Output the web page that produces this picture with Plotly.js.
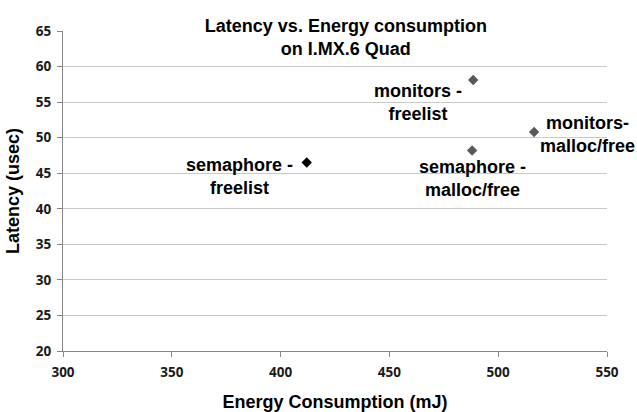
<!DOCTYPE html>
<html>
<head>
<meta charset="utf-8">
<script src="https://cdn.plot.ly/plotly-3.0.1.min.js"></script>
<style>html,body{margin:0;padding:0;background:#fff;}#chart{width:637px;height:412px;}</style>
</head>
<body>
<div id="chart"></div>
<script>
// Data
const names = ["semaphore -<br>freelist", "monitors -<br>freelist", "monitors-<br>malloc/free", "semaphore -<br>malloc/free"];
const energy = [412, 488.5, 516.5, 488];        // mJ
const latency = [46.5, 58.1, 50.8, 48.2];       // usec
const markerColors = ["#000000", "#595959", "#595959", "#595959"];
const xTicks = [300, 350, 400, 450, 500, 550];
const yTicks = [20, 25, 30, 35, 40, 45, 50, 55, 60, 65];

// label offsets (pixels) relative to each point
const labelShiftX = [-67, -55, 53, 0];
const labelShiftY = [-14, -22, -3, -28];

const labelFont = {family: "Liberation Sans, Arial, sans-serif", size: 18, color: "#000", weight: "bold"};
const tickFont = {family: "Open Sans, Lato, sans-serif", size: 13.5, color: "#1a1a1a", weight: 700};

const trace = {
  type: "scatter",
  mode: "markers",
  x: energy,
  y: latency,
  text: names,
  hoverinfo: "text+x+y",
  marker: {symbol: "diamond", size: 8, color: markerColors, line: {width: 0}}
};

const annotations = names.map((n, i) => ({
  x: energy[i], y: latency[i], xref: "x", yref: "y",
  text: n, showarrow: false, align: "center",
  xanchor: "center", yanchor: "middle",
  xshift: labelShiftX[i], yshift: labelShiftY[i],
  font: labelFont
}));

const layout = {
  width: 637, height: 412,
  margin: {l: 63, r: 30, t: 31, b: 61, pad: 0},
  paper_bgcolor: "#ffffff", plot_bgcolor: "#ffffff",
  showlegend: false,
  title: {
    text: "Latency vs. Energy consumption<br>on I.MX.6 Quad",
    x: 0.52, xanchor: "center", xref: "paper",
    y: 1 - 32/412, yanchor: "middle", yref: "container",
    font: {family: "Liberation Sans, Arial, sans-serif", size: 18, color: "#000", weight: "bold"}
  },
  xaxis: {
    range: [300, 550], tickvals: xTicks, ticktext: xTicks.map(String),
    showgrid: false, zeroline: false,
    showline: true, linecolor: "#868686", linewidth: 1,
    ticks: "outside", ticklen: 5, tickcolor: "#868686",
    ticklabelstandoff: 4,
    tickfont: tickFont,
    title: {text: "Energy Consumption (mJ)", standoff: 17,
      font: {family: "Liberation Sans, Arial, sans-serif", size: 18, color: "#000", weight: "bold"}}
  },
  yaxis: {
    range: [20, 65], tickvals: yTicks, ticktext: yTicks.map(String),
    showgrid: true, gridcolor: "#c8c8c8", gridwidth: 1, zeroline: false,
    showline: true, linecolor: "#868686", linewidth: 1,
    ticks: "outside", ticklen: 5, tickcolor: "#868686",
    ticklabelstandoff: 3,
    tickfont: tickFont,
    title: {text: "Latency (usec)", standoff: 11,
      font: {family: "Liberation Sans, Arial, sans-serif", size: 18, color: "#000", weight: "bold"}}
  },
  annotations: annotations
};

Plotly.newPlot("chart", [trace], layout, {displayModeBar: false, staticPlot: true});
</script>
</body>
</html>
